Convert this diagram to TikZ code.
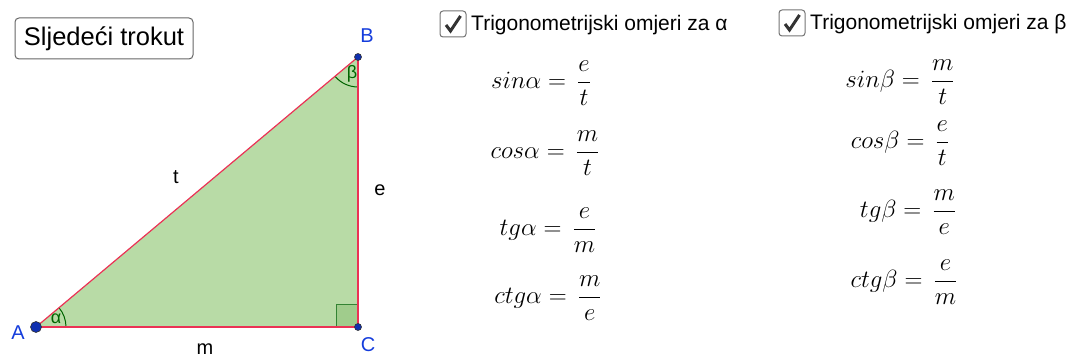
\documentclass[tikz,border=0pt]{standalone}
\usepackage{amsmath}
\usepackage[no-math]{fontspec}
\setmainfont{Liberation Sans}
\definecolor{ggred}{RGB}{235,50,85}
\definecolor{ggfill}{RGB}{184,219,166}
\definecolor{ggsq}{RGB}{160,204,140}
\definecolor{ggdark}{RGB}{0,100,0}
\definecolor{ggblue}{RGB}{20,60,220}
\begin{document}
\begin{tikzpicture}[x=1pt,y=-1pt,
    side/.style={draw=ggred, line width=1.2pt},
    pt/.style={circle, fill=ggblue!80!black, draw=black!80, line width=0.6pt, inner sep=0pt, minimum size=7pt},
    ptlabel/.style={text=ggblue, font=\fontsize{20}{22}\selectfont},
    sidelabel/.style={font=\fontsize{20}{22}\selectfont},
    anglab/.style={text=ggdark, font=\fontsize{18}{20}\selectfont, inner sep=0pt},
    angarc/.style={draw=ggdark, line width=1pt},
    formula/.style={font=\fontsize{24}{28}\selectfont},
    chkbox/.style={draw=black!55, rounded corners=3pt, line width=1pt, minimum size=26pt, inner sep=0pt},
    check/.style={draw=black!80, line width=3pt},
    chklabel/.style={anchor=west, font=\fontsize{21}{24}\selectfont, inner sep=0pt}
  ]
    \useasboundingbox (0,0) rectangle (1072,358);
    % triangle
    \coordinate (A) at (36,327);
    \coordinate (B) at (358,57);
    \coordinate (C) at (358,327);
    \fill[ggfill] (A) -- (B) -- (C) -- cycle;
    \filldraw[fill=ggsq, draw=ggdark!80, line width=1pt] (C) rectangle ++(-22,-22);
    \draw[angarc] ([shift={(0:30)}]A) arc[start angle=0, end angle=-40, radius=30];
    \draw[angarc] ([shift={(90:30)}]B) arc[start angle=90, end angle=140, radius=30];
    \draw[side] (A) -- (B);
    \draw[side] (B) -- (C);
    \draw[side] (C) -- (A);
    \node[pt, minimum size=11pt] (pA) at (A) {};
    \node[pt] (pB) at (B) {};
    \node[pt] (pC) at (C) {};
    \node[ptlabel] (lA) at (18,333) {A};
    \node[ptlabel] (lB) at (367,36) {B};
    \node[ptlabel] (lC) at (368,345) {C};
    \node[sidelabel] (lt) at (176,177) {t};
    \node[sidelabel] (le) at (380,190) {e};
    \node[sidelabel] (lm) at (205,349) {m};
    \node[anglab] (alpha) at (56,319) {α};
    \node[anglab] (beta) at (352,74) {β};
    % button
    \node[draw=black!60, rounded corners=4pt, line width=1pt, minimum width=178pt, minimum height=41pt,
      font=\fontsize{25.5}{28}\selectfont] (btn) at (104,38.5) {Sljedeći trokut};
    % check boxes
    \node[chkbox] (cbA) at (453,24) {};
    \draw[check] ([shift={(-7,1)}]cbA.center) -- ++(4.5,6) -- ++(10,-15);
    \node[chklabel] (ttlA) at (471,25) {Trigonometrijski omjeri za α};
    \node[chkbox] (cbB) at (792,23) {};
    \draw[check] ([shift={(-7,1)}]cbB.center) -- ++(4.5,6) -- ++(10,-15);
    \node[chklabel] (ttlB) at (810,24) {Trigonometrijski omjeri za β};
    % formulas for alpha
    \node[formula] (sinA) at (541,83) {$sin\alpha=\,\dfrac{e}{t}$};
    \node[formula] (cosA) at (545,153) {$cos\alpha=\,\dfrac{m}{t}$};
    \node[formula] (tgA) at (548,230) {$tg\alpha=\,\dfrac{e}{m}$};
    \node[formula] (ctgA) at (548,298) {$ctg\alpha=\,\dfrac{m}{e}$};
    % formulas for beta
    \node[formula] (sinB) at (900,82) {$sin\beta=\,\dfrac{m}{t}$};
    \node[formula] (cosB) at (900,143) {$cos\beta=\,\dfrac{e}{t}$};
    \node[formula] (tgB) at (908,212) {$tg\beta=\,\dfrac{m}{e}$};
    \node[formula] (ctgB) at (904,282) {$ctg\beta=\,\dfrac{e}{m}$};
  \end{tikzpicture}
\end{document}
